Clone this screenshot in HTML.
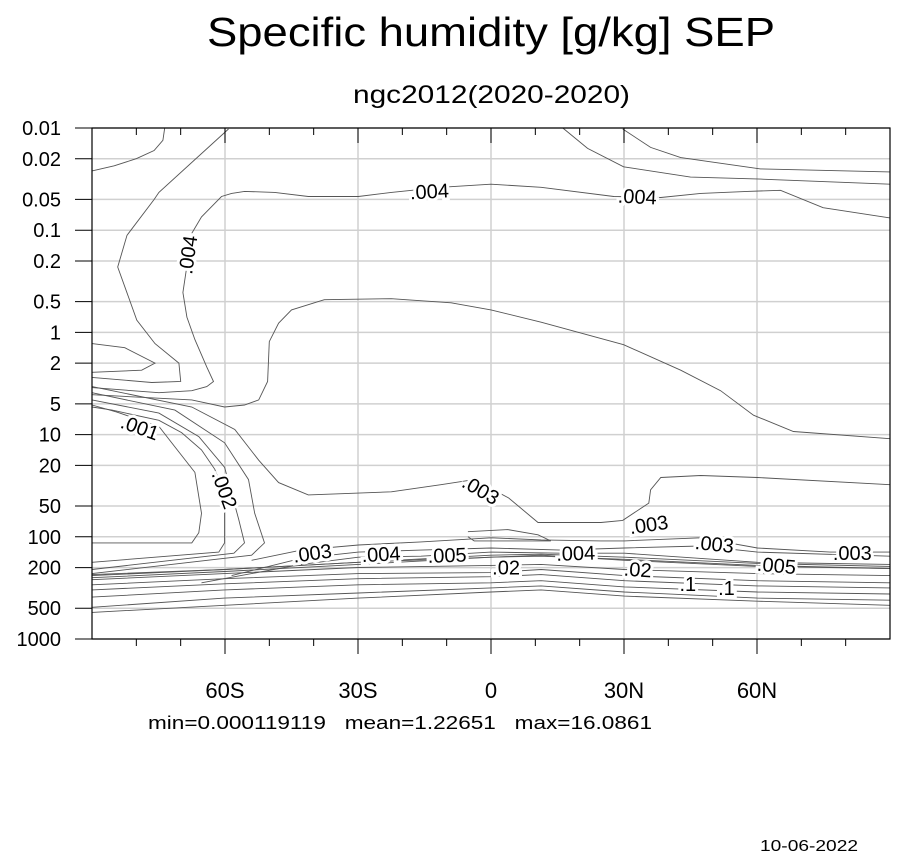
<!DOCTYPE html>
<html><head><meta charset="utf-8"><style>
body{margin:0;background:#fff;}
svg{display:block;font-family:"Liberation Sans",Arial,sans-serif;}
</style></head><body>
<svg id="chart" width="901" height="861" viewBox="0 0 901 861">
<text x="207" y="46" font-size="41" textLength="568" lengthAdjust="spacingAndGlyphs">Specific humidity [g/kg] SEP</text>
<text x="353" y="103" font-size="25" textLength="277" lengthAdjust="spacingAndGlyphs">ngc2012(2020-2020)</text>
<g id="grid"></g>
<g id="contours" fill="none" stroke="#555" stroke-width="0.9"></g>
<g id="labels"></g>
<g id="axes"></g>
<text x="148" y="729" font-size="18" textLength="504" lengthAdjust="spacingAndGlyphs" xml:space="preserve">min=0.000119119   mean=1.22651   max=16.0861</text>
<text x="760" y="851" font-size="16" textLength="98" lengthAdjust="spacingAndGlyphs">10-06-2022</text>
</svg>
<script>
// ----- axis data -----
const yTickValues = [0.01,0.02,0.05,0.1,0.2,0.5,1,2,5,10,20,50,100,200,500,1000];
const yTickLabels = ["0.01","0.02","0.05","0.1","0.2","0.5","1","2","5","10","20","50","100","200","500","1000"];
const xTickValues = [-60,-30,0,30,60];
const xTickLabels = ["60S","30S","0","30N","60N"];
const xMinorTicks = [-80,-70,-50,-40,-20,-10,10,20,40,50,70,80];
// ----- contour data: [latitude, log10(pressure)] -----
const cTopLeft = [[-90,-1.58],[-85,-1.63],[-80,-1.70],[-76,-1.78],[-74,-1.88],[-73.6,-2]];
const cTopRightA = [[16.2,-2],[21.8,-1.80],[29.9,-1.62],[45,-1.52],[60.8,-1.50],[90,-1.45]];
const cTopRightB = [[29.7,-1.99],[36,-1.81],[42.8,-1.71],[60.8,-1.60],[90,-1.57]];
const cOuter004 = [[-59.2,-1.99],[-74.9,-1.37],[-76,-1.30],[-82.1,-0.95],[-84.2,-0.64],[-79.9,-0.12],[-75.8,0.11],[-70.4,0.30],[-70,0.48],[-76.5,0.49],[-90,0.44]];
const cLoop = [[-90,0.11],[-82.6,0.15],[-75.8,0.30],[-78.8,0.37],[-90,0.39]];
const cMain004 = [[90,-1.12],[74.9,-1.22],[65.3,-1.39],[57.8,-1.38],[47.3,-1.36],[38.3,-1.32],[27.7,-1.33],[11.3,-1.42],[0,-1.45],[-11.3,-1.42],[-22.5,-1.37],[-29.9,-1.33],[-41.2,-1.33],[-48.8,-1.37],[-55.6,-1.38],[-58.5,-1.36],[-60.8,-1.33],[-65.3,-1.13],[-67.5,-0.97],[-69.5,-0.39],[-68.6,-0.15],[-66.8,0.07],[-64.1,0.34],[-62.6,0.48],[-64.1,0.53],[-67.5,0.57],[-74.9,0.59],[-90,0.54]];
const cBigLoop = [[90,1.04],[68.2,0.97],[59.2,0.81],[51.8,0.57],[42.8,0.37],[29.9,0.12],[11.3,-0.10],[0,-0.22],[-9,-0.29],[-22.5,-0.33],[-37.6,-0.32],[-45,-0.22],[-47.9,-0.09],[-50,0.09],[-50.4,0.48],[-52.4,0.66],[-55.6,0.71],[-60.1,0.73],[-67.5,0.66],[-90,0.61]];
const c001 = [[-90,0.71],[-84.4,0.78],[-74.9,0.92],[-71.3,1.12],[-66.8,1.37],[-65.3,1.77],[-65.9,1.96],[-67.5,2.06],[-90,2.06]];
const c002 = [[-90,0.73],[-85.5,0.76],[-74.9,0.86],[-69.8,0.98],[-65.3,1.15],[-62.3,1.34],[-60.1,1.59],[-60.1,1.83],[-60.1,2.06],[-61.4,2.15],[-90,2.25]];
const c002b = [[-90,0.66],[-74.9,0.79],[-65.9,1.02],[-60.1,1.32],[-56.9,1.83],[-55.6,2.06],[-58,2.16],[-90,2.32]];
const c002c = [[-90,0.59],[-71.3,0.76],[-60.1,1.08],[-54.7,1.44],[-53.3,1.77],[-51.1,2.06],[-54,2.18],[-90,2.36]];
const c003 = [[-90,0.53],[-67.5,0.73],[-57.8,0.95],[-52.4,1.25],[-47.9,1.47],[-41.2,1.59],[-22.5,1.56],[-11.3,1.49],[-3.8,1.44],[4,1.62],[10.6,1.86],[24.8,1.86],[29.7,1.84],[35.6,1.67],[36,1.54],[38.3,1.42],[47.3,1.40],[60.1,1.42],[90,1.49]];
const cSmallLoop = [[-5.2,1.95],[3.8,1.93],[10.6,1.98],[13.5,2.04],[-3.8,2.04],[-5.2,2.00]];
const cUpper003 = [[-54,2.23],[-42.8,2.13],[-29.9,2.08],[-15.8,2.05],[0,2.01],[11.3,2.03],[24.8,2.04],[30.1,2.04],[47.3,2.01],[60.1,2.11],[76.5,2.15],[90,2.15]];
const cUpper004 = [[-58.5,2.38],[-42.8,2.21],[-29.9,2.15],[-15.8,2.13],[0,2.11],[15.8,2.13],[30.1,2.11],[47.3,2.09],[60.1,2.15],[90,2.19]];
const cUpper005 = [[-65.3,2.45],[-42.8,2.27],[-29.9,2.20],[-15.8,2.19],[0,2.15],[15.8,2.16],[30.1,2.16],[60.1,2.25],[90,2.27]];
const cDense1 = [[-90,2.38],[-60.1,2.32],[-29.9,2.25],[0,2.18],[11.3,2.17],[30.1,2.20],[60.1,2.26],[90,2.29]];
const cDense2 = [[-90,2.40],[-60.1,2.34],[-29.9,2.27],[0,2.20],[11.3,2.19],[30.1,2.22],[60.1,2.28],[90,2.31]];
const bandLats = [-90,-60.1,-29.9,0,11.3,30.1,60.1,90];
const band1 = [2.37,2.32,2.25,2.20,2.18,2.23,2.29,2.31];
const band2 = [2.42,2.36,2.30,2.28,2.27,2.32,2.36,2.38];
const band3 = [2.47,2.41,2.36,2.35,2.32,2.38,2.43,2.45];
const band4 = [2.52,2.46,2.41,2.39,2.37,2.43,2.48,2.50];
const band5 = [2.59,2.52,2.47,2.45,2.43,2.49,2.54,2.56];
const band6 = [2.69,2.60,2.55,2.50,2.48,2.54,2.60,2.62];
const band7 = [2.74,2.67,2.60,2.54,2.52,2.58,2.63,2.67];
const labelText = [".004",".004",".004",".001",".002",".003",".003",".003",".004",".005",".02",".004",".003",".02",".1",".1",".005",".003"];
const labelLat  = [-13.9,33,-68.4,-79.2,-60.1,-2.3,35.6,-40.3,-24.8,-9.9,3.4,19.1,50.4,33.1,44.4,53.1,64.4,81.5];
const labelLogP = [-1.38,-1.33,-0.76,0.93,1.54,1.54,1.88,2.16,2.17,2.18,2.30,2.16,2.07,2.32,2.46,2.50,2.28,2.16];
const labelRot  = [-3,3,-82,20,70,30,-8,-8,-3,-2,0,-2,6,4,0,0,5,0];

// ----- axis functions -----
const X0=92, X1=890, Y0=128, Y1=639;
const xScale = lat => X0 + (lat+90)/180*(X1-X0);
const yScale = lp => Y0 + (lp+2)/5*(Y1-Y0);
const yScaleP = p => yScale(Math.log10(p));
const NS="http://www.w3.org/2000/svg";
function mk(tag, attrs, parent){const e=document.createElementNS(NS,tag);for(const k in attrs)e.setAttribute(k,attrs[k]);parent.appendChild(e);return e;}

const grid=document.getElementById('grid');
yTickValues.forEach(v=>{const y=yScaleP(v);
  const l=mk('line',{x1:X0,x2:X1,y1:y,y2:y,stroke:'#d0d0d0','stroke-width':1.5},grid);
  
  });
xTickValues.forEach(v=>{const x=xScale(v);
  const l=mk('line',{x1:x,x2:x,y1:Y0,y2:Y1,stroke:'#d0d0d0','stroke-width':1.5},grid);
  
  });

const cg=document.getElementById('contours');
function poly(pts,name){
  const d=pts.map((p,i)=>(i?'L':'M')+xScale(p[0]).toFixed(1)+' '+yScale(p[1]).toFixed(1)).join(' ');
  const e=mk('path',{d:d},cg);
  
  
}
poly(cTopLeft,'contour-top-left');poly(cTopRightA,'contour-top-right-a');poly(cTopRightB,'contour-top-right-b');
poly(cOuter004,'contour-outer-004');poly(cLoop,'contour-loop');poly(cMain004,'contour-004');
poly(cBigLoop,'contour-big-loop');poly(c001,'contour-001');poly(c002,'contour-002');poly(c002b,'contour-002b');
poly(c002c,'contour-002c');poly(c003,'contour-003');poly(cSmallLoop,'contour-small-loop');
poly(cUpper003,'contour-upper-003');poly(cUpper004,'contour-upper-004');poly(cUpper005,'contour-upper-005');
poly(cDense1,'contour-dense-1');poly(cDense2,'contour-dense-2');
[band1,band2,band3,band4,band5,band6,band7].forEach((b,i)=>poly(bandLats.map((la,j)=>[la,b[j]]),'contour-band-'+(i+1)));

const lg=document.getElementById('labels');
labelText.forEach((t,i)=>{const x=xScale(labelLat[i]),y=yScale(labelLogP[i]);
  const e=mk('text',{x:x,y:y+7,'font-size':20,'text-anchor':'middle',fill:'#000',stroke:'#fff','stroke-width':6,'paint-order':'stroke',transform:`rotate(${labelRot[i]} ${x} ${y})`},lg);
  e.textContent=t;
  
  });

const ax=document.getElementById('axes');
const fr=mk('rect',{x:X0,y:Y0,width:X1-X0,height:Y1-Y0,fill:'none',stroke:'#000','stroke-width':1.2},ax);


yTickValues.forEach((v,i)=>{const y=yScaleP(v);
  mk('line',{x1:X0-17,x2:X0,y1:y,y2:y,stroke:'#000'},ax);
  const t=mk('text',{x:61,y:y+7,'font-size':20,'text-anchor':'end'},ax);
  t.textContent=yTickLabels[i];
  
  });
xTickValues.forEach((v,i)=>{const x=xScale(v);
  mk('line',{x1:x,x2:x,y1:Y1,y2:Y1+15,stroke:'#000'},ax);
  mk('line',{x1:x,x2:x,y1:Y0,y2:Y0+15,stroke:'#000'},ax);
  const t=mk('text',{x:x,y:Y1+59,'font-size':22,'text-anchor':'middle'},ax);
  t.textContent=xTickLabels[i];
  
  });
xMinorTicks.forEach(v=>{const x=xScale(v);
  mk('line',{x1:x,x2:x,y1:Y1,y2:Y1+7,stroke:'#000'},ax);
  mk('line',{x1:x,x2:x,y1:Y0,y2:Y0+7,stroke:'#000'},ax);});
</script>
</body></html>
